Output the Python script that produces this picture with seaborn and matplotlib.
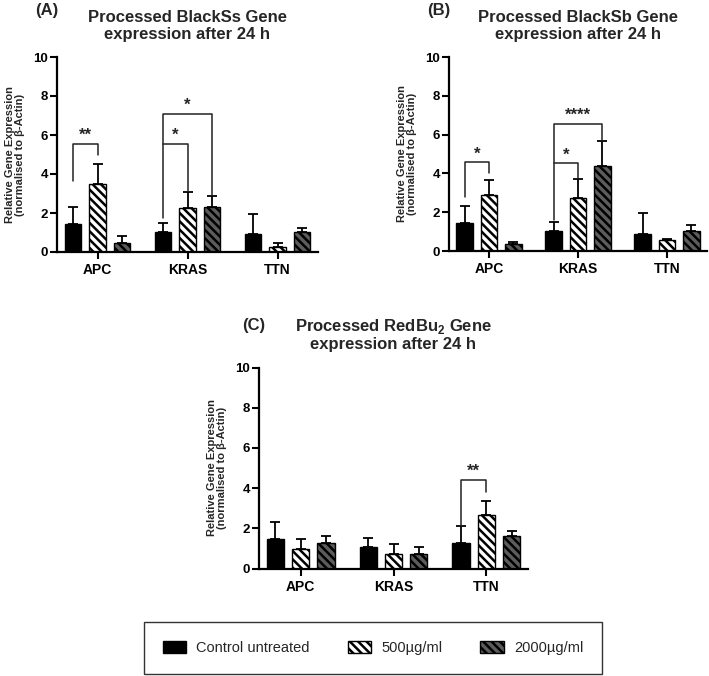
import matplotlib
matplotlib.use('Agg')
import matplotlib.pyplot as plt
from matplotlib.patches import Patch
import numpy as np
import pandas as pd
import seaborn as sns

sns.set_theme(style='ticks')
plt.rcParams['font.family'] = ['Liberation Sans', 'DejaVu Sans']
plt.rcParams['mathtext.fontset'] = 'custom'
plt.rcParams['mathtext.rm'] = 'Liberation Sans'
plt.rcParams['mathtext.bf'] = 'Liberation Sans:bold'
plt.rcParams['hatch.linewidth'] = 1.8

genes = ['APC', 'KRAS', 'TTN']
groups = ['Control untreated', '500µg/ml', '2000µg/ml']
colors = ['black', 'white', '#5c5c5c']
hatches = ['', '\\\\\\\\', '\\\\\\\\']

# means and SD per treatment (gene order APC, KRAS, TTN)
blackss_ctrl = [1.45, 1.05, 0.90]
blackss_500 = [3.50, 2.25, 0.25]
blackss_2000 = [0.45, 2.30, 1.05]
blackss_ctrl_sd = [0.85, 0.45, 1.05]
blackss_500_sd = [1.00, 0.85, 0.20]
blackss_2000_sd = [0.35, 0.55, 0.20]

blacksb_ctrl = [1.45, 1.05, 0.90]
blacksb_500 = [2.90, 2.75, 0.55]
blacksb_2000 = [0.35, 4.40, 1.05]
blacksb_ctrl_sd = [0.85, 0.45, 1.05]
blacksb_500_sd = [0.75, 0.95, 0.06]
blacksb_2000_sd = [0.12, 1.25, 0.30]

redbu_ctrl = [1.45, 1.05, 1.25]
redbu_500 = [0.95, 0.70, 2.65]
redbu_2000 = [1.25, 0.70, 1.60]
redbu_ctrl_sd = [0.85, 0.45, 0.85]
redbu_500_sd = [0.50, 0.50, 0.70]
redbu_2000_sd = [0.35, 0.35, 0.25]

# significance brackets: gene, group i, group j, height, left leg end, right leg end, stars
blackss_sig = [(0, 0, 1, 5.55, 3.65, 4.95, '**'),
               (1, 0, 1, 5.55, 1.75, 3.15, '*'),
               (1, 0, 2, 7.10, 5.55, 2.90, '*')]
blacksb_sig = [(0, 0, 1, 4.57, 2.80, 4.00, '*'),
               (1, 0, 1, 4.52, 1.60, 3.75, '*'),
               (1, 0, 2, 6.55, 4.52, 5.65, '****')]
redbu_sig = [(2, 0, 1, 4.41, 2.10, 3.83, '**')]

panels = [
    ('(A)', 'Processed BlackSs Gene\nexpression after 24 h',
     [blackss_ctrl, blackss_500, blackss_2000],
     [blackss_ctrl_sd, blackss_500_sd, blackss_2000_sd], blackss_sig,
     [57/709, 1-252/676, 261/709, 195/676], (35/709, 1-11/676)),
    ('(B)', 'Processed BlackSb Gene\nexpression after 24 h',
     [blacksb_ctrl, blacksb_500, blacksb_2000],
     [blacksb_ctrl_sd, blacksb_500_sd, blacksb_2000_sd], blacksb_sig,
     [449/709, 1-251/676, 258/709, 194/676], (427/709, 1-11/676)),
    ('(C)', 'Processed RedBu$_\\mathbf{2}$ Gene\nexpression after 24 h',
     [redbu_ctrl, redbu_500, redbu_2000],
     [redbu_ctrl_sd, redbu_500_sd, redbu_2000_sd], redbu_sig,
     [259/709, 1-568.5/676, 269/709, 201/676], (242/709, 1-325/676)),
]

fig = plt.figure(figsize=(7.09, 6.76), dpi=100)

for tag, title, means, sds, sig, pos, tagpos in panels:
    ax = fig.add_axes(pos)
    df = pd.DataFrame({
        'gene': genes * 3,
        'group': [g for g in groups for _ in genes],
        'value': np.concatenate(means),
    })
    sns.barplot(data=df, x='gene', y='value', hue='group', order=genes,
                hue_order=groups, palette=colors, saturation=1, width=0.82,
                gap=0.32, edgecolor='black', linewidth=1, errorbar=None,
                legend=False, ax=ax)
    for cont, h, sd in zip(ax.containers, hatches, sds):
        xs = [b.get_x() + b.get_width() / 2 for b in cont]
        ys = [b.get_height() for b in cont]
        for b in cont:
            b.set_hatch(h)
            b.set_edgecolor('black')
        ax.errorbar(xs, ys, yerr=[np.zeros(len(sd)), sd], fmt='none',
                    ecolor='black', elinewidth=1.3, capsize=3.5,
                    capthick=1.3, zorder=1)
    for g, i, j, y, lb, rb, s in sig:
        b1 = ax.containers[i][g]
        b2 = ax.containers[j][g]
        x1 = b1.get_x() + b1.get_width() / 2
        x2 = b2.get_x() + b2.get_width() / 2
        ax.plot([x1, x1, x2, x2], [lb, y, y, rb], color='#222222', lw=1.1)
        ax.text((x1 + x2) / 2, y + 0.05, s, ha='center', va='bottom',
                fontsize=12, fontweight='bold')
    ax.set_ylim(0, 10)
    ax.set_xlim(-0.45, 2.45)
    ax.set_yticks([0, 2, 4, 6, 8, 10])
    ax.set_xlabel('')
    ax.set_ylabel('Relative Gene Expression\n(normalised to β-Actin)',
                  fontsize=8, fontweight='bold', labelpad=6, linespacing=1.0)
    ax.tick_params(axis='both', length=5, width=1.5, color='black',
                   labelsize=10, labelcolor='black')
    ax.tick_params(axis='y', pad=1.5, labelsize=9.5)
    ax.tick_params(axis='x', pad=3)
    for lab in ax.get_xticklabels() + ax.get_yticklabels():
        lab.set_fontweight('bold')
    sns.despine(ax=ax)
    for sp in ['left', 'bottom']:
        ax.spines[sp].set_linewidth(1.6)
        ax.spines[sp].set_color('black')
    ax.set_title(title, fontsize=12, fontweight='bold', pad=13,
                 linespacing=1.15)
    fig.text(tagpos[0], tagpos[1], tag, fontsize=12, fontweight='bold',
             ha='left', va='center')

handles = [Patch(facecolor=c, edgecolor='black', hatch=h, label=g)
           for c, h, g in zip(colors, hatches, groups)]
leg = fig.legend(handles=handles, loc='center', ncol=3,
                 bbox_to_anchor=(373/709, 1-648/676), fontsize=10.5,
                 frameon=True, fancybox=False, edgecolor='black',
                 borderpad=1.3, handlelength=1.6, handleheight=0.8,
                 handletextpad=0.7, columnspacing=2.6)
leg.get_frame().set_linewidth(1.0)

fig.savefig('out.png', dpi=100)
